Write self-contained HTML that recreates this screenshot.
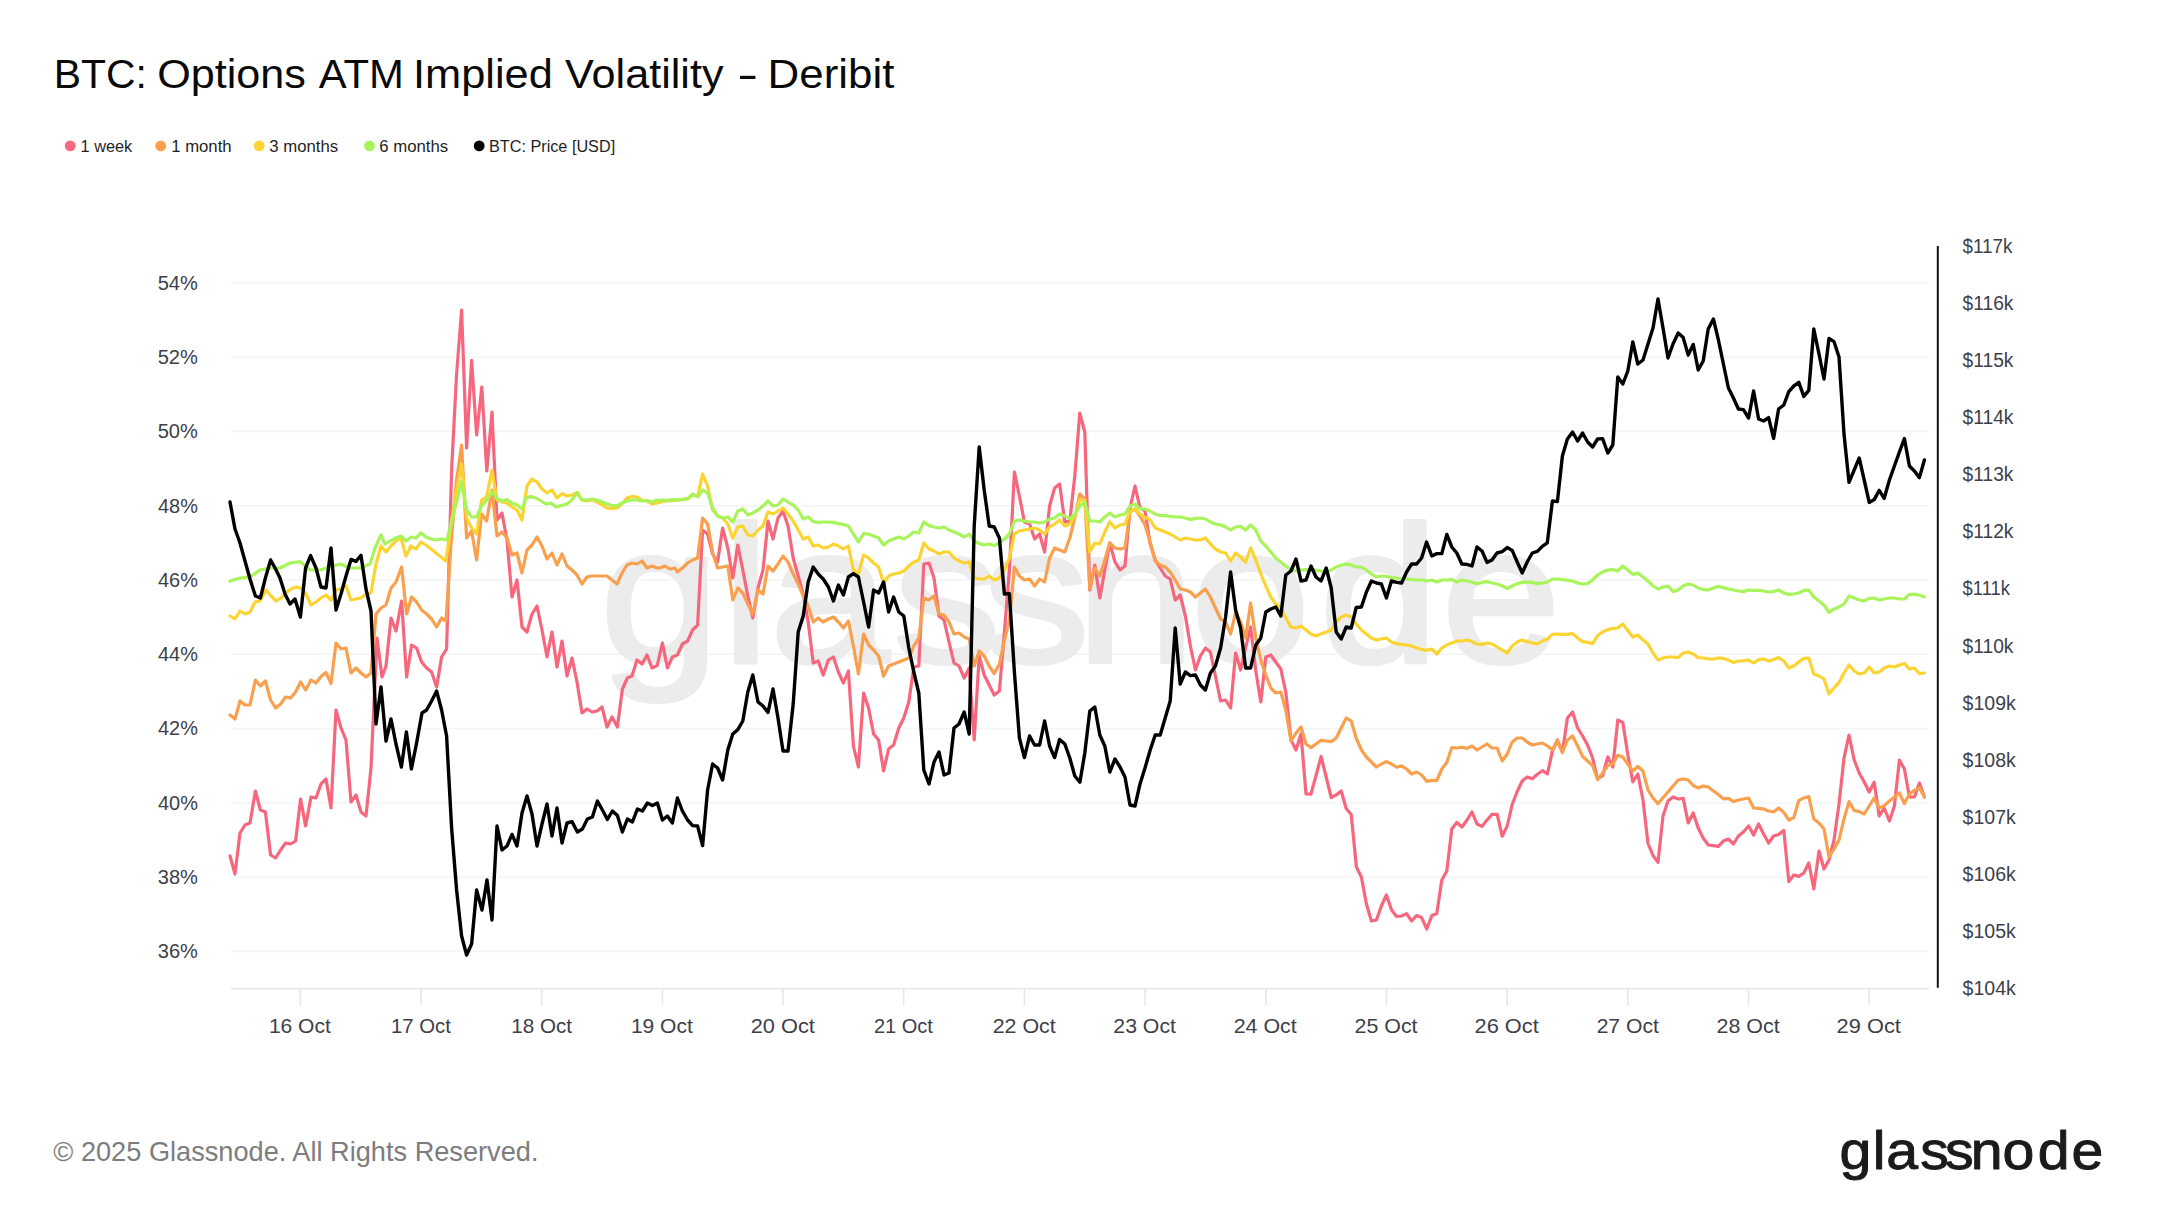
<!DOCTYPE html>
<html><head><meta charset="utf-8"><title>BTC: Options ATM Implied Volatility - Deribit</title>
<style>
html,body{margin:0;padding:0;background:#fff;}
body{width:2160px;height:1215px;overflow:hidden;position:relative;font-family:"Liberation Sans",sans-serif;}
svg{position:absolute;left:0;top:0;}
text{font-family:"Liberation Sans",sans-serif;}
.ax{font-size:19.5px;fill:#3d4049;}
.lg{font-size:17.2px;fill:#1f1f1f;}
.ln{fill:none;stroke-linejoin:round;stroke-linecap:round;}
</style></head><body>
<svg width="2160" height="1215" viewBox="0 0 2160 1215">
<rect width="2160" height="1215" fill="#fff"/>
<text id="title" y="87.5" font-size="41.5" fill="#0a0a0a"><tspan x="53.75" textLength="93.08" lengthAdjust="spacingAndGlyphs">BTC:</tspan> <tspan x="157.16" textLength="148.60" lengthAdjust="spacingAndGlyphs">Options</tspan> <tspan x="318.67" textLength="85.16" lengthAdjust="spacingAndGlyphs">ATM</tspan> <tspan x="413.00" textLength="139.80" lengthAdjust="spacingAndGlyphs">Implied</tspan> <tspan x="565.11" textLength="158.47" lengthAdjust="spacingAndGlyphs">Volatility</tspan> <tspan x="737.20" textLength="21.00" lengthAdjust="spacingAndGlyphs">-</tspan> <tspan x="767.60" textLength="126.72" lengthAdjust="spacingAndGlyphs">Deribit</tspan></text>
<g>
<circle cx="70.2" cy="145.9" r="5.4" fill="#f6697f"/><text class="lg" x="80.56" y="151.6" textLength="51.72" lengthAdjust="spacingAndGlyphs">1 week</text>
<circle cx="160.7" cy="145.9" r="5.4" fill="#f9a04e"/><text class="lg" x="171.23" y="151.6" textLength="60.36" lengthAdjust="spacingAndGlyphs">1 month</text>
<circle cx="259.2" cy="145.9" r="5.4" fill="#fbd535"/><text class="lg" x="269.36" y="151.6" textLength="68.84" lengthAdjust="spacingAndGlyphs">3 months</text>
<circle cx="369.5" cy="145.9" r="5.4" fill="#a9f35c"/><text class="lg" x="379.15" y="151.6" textLength="69.06" lengthAdjust="spacingAndGlyphs">6 months</text>
<circle cx="479.2" cy="145.9" r="5.4" fill="#000"/><text class="lg" x="488.97" y="151.6" textLength="126.19" lengthAdjust="spacingAndGlyphs">BTC: Price [USD]</text>
</g>
<line x1="230.5" x2="1929" y1="283.0" y2="283.0" stroke="#f4f4f4" stroke-width="1.5"/><line x1="230.5" x2="1929" y1="357.3" y2="357.3" stroke="#f4f4f4" stroke-width="1.5"/><line x1="230.5" x2="1929" y1="431.5" y2="431.5" stroke="#f4f4f4" stroke-width="1.5"/><line x1="230.5" x2="1929" y1="505.8" y2="505.8" stroke="#f4f4f4" stroke-width="1.5"/><line x1="230.5" x2="1929" y1="580.1" y2="580.1" stroke="#f4f4f4" stroke-width="1.5"/><line x1="230.5" x2="1929" y1="654.3" y2="654.3" stroke="#f4f4f4" stroke-width="1.5"/><line x1="230.5" x2="1929" y1="728.6" y2="728.6" stroke="#f4f4f4" stroke-width="1.5"/><line x1="230.5" x2="1929" y1="802.9" y2="802.9" stroke="#f4f4f4" stroke-width="1.5"/><line x1="230.5" x2="1929" y1="877.2" y2="877.2" stroke="#f4f4f4" stroke-width="1.5"/><line x1="230.5" x2="1929" y1="951.4" y2="951.4" stroke="#f4f4f4" stroke-width="1.5"/>
<text id="wm" transform="scale(1.1,1)" x="545.5 656.3 699.7 812.1 893.2 978.2 1082.6 1199.5 1310.5" y="662" font-size="195" fill="#ececec" stroke="#ececec" stroke-width="4" stroke-linejoin="round">glassnode</text>
<polyline class="ln" stroke="#f6677d" stroke-width="3.2" points="230.0,856.0 235.0,874.0 240.0,833.0 245.0,825.0 250.0,823.0 255.4,791.0 260.4,810.0 265.4,812.0 270.6,855.0 275.6,858.0 280.6,850.0 285.6,843.0 290.6,844.0 295.6,841.0 300.6,799.0 305.6,826.0 311.0,797.0 316.0,798.0 321.0,784.0 326.0,779.0 331.0,808.0 336.0,710.0 341.0,728.0 346.0,740.0 351.0,802.0 356.0,795.0 361.0,812.0 366.0,816.0 371.0,768.0 377.0,638.0 382.0,677.0 386.0,666.0 391.0,618.0 396.0,631.0 401.6,601.0 406.6,677.0 411.6,645.0 416.6,648.0 421.6,662.0 426.6,668.0 431.6,672.0 436.6,687.0 441.6,657.0 446.6,649.0 451.6,470.0 456.6,374.0 461.6,310.0 466.6,448.0 471.6,360.4 476.6,435.0 481.8,387.0 486.8,471.0 492.0,412.0 497.0,520.0 502.0,513.0 507.0,540.0 512.0,597.0 517.0,580.0 522.0,627.0 527.0,632.0 532.0,614.0 537.0,606.0 542.0,630.0 547.0,657.0 552.0,632.0 557.0,667.0 562.0,641.0 567.0,676.0 572.0,658.0 577.0,682.0 582.0,713.0 587.0,709.0 592.0,712.0 597.0,711.0 602.0,707.0 607.0,727.0 612.0,717.0 617.4,727.0 622.4,689.0 627.4,678.0 632.0,676.0 637.0,660.0 642.0,664.0 647.0,655.0 652.0,668.0 657.2,665.5 662.4,643.0 667.4,668.0 672.4,657.0 677.4,655.0 682.4,644.0 687.6,641.0 692.6,630.0 697.6,625.0 702.6,530.0 707.6,534.0 712.6,554.0 717.6,562.0 722.6,528.0 727.8,548.0 732.8,578.0 737.8,545.0 742.8,570.0 747.8,596.0 752.8,618.0 758.0,588.0 763.0,570.0 768.0,521.0 773.0,539.0 778.0,518.0 783.0,511.0 788.0,526.0 793.2,558.0 798.2,576.0 803.2,594.0 808.2,622.0 813.2,663.0 818.2,661.0 823.2,675.0 828.4,660.0 833.4,657.0 838.4,672.0 843.4,683.0 848.4,671.0 853.4,746.0 858.4,767.0 863.6,693.0 868.6,708.0 873.6,734.0 878.6,740.0 883.6,771.0 888.6,749.0 893.6,745.0 898.8,728.0 903.8,718.0 908.8,702.0 913.8,667.0 918.8,666.0 923.8,564.0 929.0,563.0 934.0,578.0 939.0,616.0 944.0,620.0 949.0,642.0 954.0,663.0 959.0,666.0 964.2,678.0 969.2,668.0 974.2,740.0 979.2,656.0 984.2,675.0 989.2,685.0 994.2,695.0 999.4,691.0 1004.4,632.0 1009.4,570.0 1014.4,472.0 1019.4,496.0 1024.4,522.0 1029.6,524.0 1034.6,539.0 1039.6,534.0 1044.6,552.0 1049.6,506.0 1054.6,488.0 1059.6,484.0 1064.8,522.0 1069.8,521.0 1074.8,476.0 1079.8,413.0 1084.8,432.0 1089.8,590.0 1094.8,565.0 1099.8,598.0 1104.8,570.0 1109.8,543.0 1115.0,562.0 1120.0,570.0 1125.0,566.0 1130.0,508.0 1135.0,486.0 1140.0,508.0 1145.0,511.0 1150.2,544.0 1155.2,560.0 1160.2,568.0 1165.2,576.0 1170.2,579.0 1175.2,600.0 1180.2,595.0 1185.4,616.0 1190.4,646.0 1195.4,670.0 1200.4,656.0 1205.4,648.0 1210.4,652.0 1215.4,676.0 1220.6,701.0 1225.6,700.0 1230.6,708.0 1235.6,653.0 1240.6,670.0 1245.6,648.0 1250.6,627.0 1255.8,671.0 1260.8,702.0 1265.8,657.0 1270.8,655.0 1275.8,662.0 1280.8,669.0 1285.8,692.0 1291.0,740.0 1296.0,750.0 1301.0,734.0 1306.0,794.0 1311.0,794.2 1316.0,775.5 1321.1,756.5 1326.2,777.0 1331.2,797.5 1336.2,795.0 1341.2,791.0 1346.2,808.5 1351.2,814.5 1356.4,867.0 1361.4,877.0 1366.4,904.0 1371.4,921.0 1376.4,920.0 1381.4,906.0 1386.4,895.0 1391.6,910.0 1396.6,916.4 1401.6,916.0 1406.6,913.6 1411.6,921.0 1416.6,915.6 1421.6,917.6 1426.8,929.0 1431.8,915.6 1436.8,913.6 1441.8,880.0 1446.8,871.0 1451.8,829.0 1456.8,822.4 1462.0,827.0 1467.0,820.0 1472.0,812.0 1477.0,824.0 1482.0,826.4 1487.0,820.0 1492.0,814.4 1497.2,814.4 1502.2,836.2 1507.2,826.0 1512.2,804.5 1517.2,791.5 1522.2,781.0 1527.2,777.0 1532.3,778.7 1537.4,774.2 1542.4,770.7 1547.4,774.0 1552.4,751.0 1557.4,740.0 1562.4,752.4 1567.4,718.0 1572.6,712.0 1577.6,728.0 1582.6,736.0 1587.6,745.0 1592.6,758.0 1597.6,779.0 1602.7,775.5 1607.8,757.0 1612.8,767.0 1617.8,720.0 1622.8,722.4 1627.8,754.5 1632.8,782.0 1637.9,774.0 1643.0,800.0 1648.0,843.5 1653.0,855.5 1658.0,862.4 1663.0,816.0 1668.0,801.0 1673.1,797.0 1678.2,799.0 1683.2,798.4 1688.2,823.0 1693.2,813.0 1698.2,828.0 1703.2,838.0 1708.3,845.0 1713.4,845.6 1718.4,846.4 1723.4,841.0 1728.4,839.0 1733.4,844.0 1738.4,836.0 1743.4,832.0 1748.6,826.0 1753.6,835.0 1758.6,824.0 1763.6,834.0 1768.6,843.0 1773.6,836.0 1778.6,834.4 1783.8,830.4 1788.8,881.6 1793.8,875.0 1798.8,876.4 1803.8,873.0 1808.8,863.0 1813.8,889.0 1819.0,851.0 1824.0,869.0 1829.0,860.0 1834.0,840.0 1839.0,804.0 1844.0,758.0 1849.0,735.0 1854.2,760.0 1859.2,773.0 1864.2,782.0 1869.2,792.0 1874.2,782.2 1879.2,816.0 1884.2,808.0 1889.4,821.0 1894.4,806.0 1899.4,760.0 1904.4,769.0 1909.4,797.0 1914.4,797.0 1919.4,783.0 1924.4,797.0"/>
<polyline class="ln" stroke="#f9a04e" stroke-width="3.2" points="230.0,715.0 235.0,719.0 240.0,701.0 245.0,705.0 250.0,705.0 255.4,680.0 260.4,686.0 265.4,681.0 270.6,700.0 275.6,708.0 280.6,704.0 285.6,697.0 290.6,698.0 295.6,692.0 300.6,682.0 305.6,690.0 311.0,680.0 316.0,683.0 321.0,676.5 326.0,672.5 331.0,683.5 336.0,643.0 341.0,649.0 346.0,648.0 351.0,673.0 356.0,668.0 361.0,673.0 366.0,677.0 371.0,673.0 376.0,614.0 381.0,608.0 386.0,605.0 391.0,588.0 396.0,582.0 401.6,567.0 406.6,614.0 411.6,597.0 416.6,602.0 421.6,610.0 426.6,614.0 431.6,619.0 436.6,627.0 441.6,618.0 446.0,621.0 451.0,544.0 456.6,480.0 461.6,445.0 466.6,538.0 471.6,531.0 476.6,560.0 481.6,514.0 486.6,521.0 492.0,490.0 497.0,536.0 502.0,532.0 507.0,538.0 512.0,555.0 517.0,553.0 522.0,573.0 527.0,550.0 532.0,545.0 537.0,537.0 542.0,546.0 547.0,559.0 552.0,553.0 557.0,565.0 562.0,554.0 567.0,566.0 572.0,570.0 577.0,575.0 582.0,584.0 587.0,577.0 592.0,576.0 597.0,576.0 602.0,576.0 607.0,576.0 612.0,580.0 617.0,584.0 622.0,573.0 627.0,565.0 632.0,563.0 637.0,564.0 642.0,561.0 647.0,568.0 652.0,566.0 657.0,568.0 660.0,568.0 665.0,566.0 670.0,569.0 675.0,568.0 677.4,572.0 682.4,568.0 687.6,563.0 692.6,560.0 697.6,558.0 702.6,518.0 707.6,524.0 712.6,552.0 717.6,568.0 722.6,567.0 727.8,566.0 732.8,600.0 737.8,588.0 742.8,593.0 747.8,604.0 752.8,614.0 758.0,590.0 763.0,594.0 768.0,566.0 773.0,571.0 778.0,564.0 783.0,556.0 788.0,562.0 793.2,574.0 798.2,584.0 803.2,596.0 808.2,606.0 813.2,622.0 818.2,618.0 823.2,622.0 828.4,619.0 833.4,617.0 838.4,622.0 843.4,628.0 848.4,621.0 853.4,646.0 858.4,674.0 863.6,634.0 868.6,645.0 873.6,650.0 878.6,656.0 883.6,676.0 888.6,666.0 893.6,664.0 898.8,662.0 903.8,660.0 908.8,658.0 913.8,646.0 918.8,638.0 923.8,598.0 929.0,600.0 934.0,596.0 939.0,614.0 944.0,615.0 949.0,622.0 954.0,634.0 959.0,633.0 964.2,637.0 969.2,639.0 974.2,666.0 979.2,651.0 984.2,656.0 989.2,666.0 994.2,673.6 999.4,664.0 1004.4,640.0 1009.4,620.0 1014.4,567.0 1019.4,576.0 1024.4,580.0 1029.6,579.0 1034.6,586.0 1039.6,579.0 1044.6,582.0 1049.6,558.0 1054.6,548.0 1059.6,550.0 1064.8,552.0 1069.8,538.0 1074.8,518.0 1079.8,494.0 1084.8,499.0 1089.8,589.0 1094.8,568.0 1099.8,576.0 1104.8,560.0 1109.8,543.0 1115.0,548.0 1120.0,549.0 1125.0,548.0 1130.0,512.0 1135.0,509.0 1140.0,516.0 1145.0,525.0 1150.2,542.0 1155.2,561.0 1160.2,565.0 1165.2,567.0 1170.2,572.0 1175.2,580.0 1180.2,589.0 1185.4,590.0 1190.4,592.0 1195.4,597.0 1200.4,593.0 1205.4,589.0 1210.4,597.0 1215.4,608.0 1220.6,619.0 1225.6,622.0 1230.6,634.0 1235.6,612.0 1240.6,622.0 1245.6,638.0 1250.6,603.0 1255.8,638.0 1260.8,660.0 1265.8,675.0 1270.8,688.0 1275.8,693.0 1280.8,692.0 1285.8,710.0 1291.0,741.0 1296.0,733.0 1301.0,727.0 1306.0,744.0 1311.0,747.6 1316.0,744.0 1321.0,740.4 1326.2,741.0 1331.2,741.6 1336.2,738.0 1341.2,728.0 1346.2,718.0 1351.2,721.0 1356.2,738.0 1361.4,750.0 1366.4,757.0 1371.4,762.0 1376.4,767.0 1381.4,764.0 1386.4,761.6 1391.5,764.0 1396.6,767.2 1401.6,765.8 1406.6,769.0 1411.6,774.0 1416.6,772.0 1421.6,775.0 1426.7,781.3 1431.8,780.4 1436.8,780.5 1441.8,769.0 1446.8,762.5 1451.8,747.5 1456.8,748.0 1461.9,747.3 1467.0,748.4 1472.0,746.0 1477.0,750.0 1482.0,747.0 1487.0,744.0 1492.0,748.0 1497.1,748.0 1502.2,761.0 1507.2,754.0 1512.2,742.0 1517.2,738.0 1522.2,738.0 1527.2,742.0 1532.3,745.0 1537.4,744.0 1542.4,743.0 1547.4,746.0 1552.4,749.8 1557.4,741.0 1562.4,752.4 1567.4,740.0 1572.6,736.0 1577.6,746.0 1582.6,756.5 1587.6,761.0 1592.6,765.5 1597.6,779.5 1602.7,773.0 1607.8,765.5 1612.8,764.0 1617.8,755.3 1622.8,757.0 1627.8,764.0 1632.8,771.0 1637.9,766.5 1643.0,771.0 1648.0,790.0 1653.0,798.0 1658.0,803.8 1663.0,797.8 1668.0,792.0 1673.1,786.0 1678.2,780.0 1683.2,779.0 1688.2,780.0 1693.2,785.5 1698.2,788.0 1703.2,786.1 1708.3,786.9 1713.4,791.0 1718.4,794.5 1723.4,798.9 1728.4,798.4 1733.4,801.6 1738.4,800.0 1743.4,799.0 1748.6,798.0 1753.6,808.0 1758.6,808.4 1763.6,809.0 1768.6,811.0 1773.6,812.0 1778.6,808.0 1783.8,812.4 1788.8,820.0 1793.8,817.6 1798.8,800.4 1803.8,798.0 1808.8,796.6 1813.8,819.0 1819.0,823.0 1824.0,829.0 1829.0,857.0 1834.0,849.0 1839.0,840.0 1844.0,819.0 1849.0,801.6 1854.2,810.4 1859.2,811.6 1864.2,814.0 1869.2,806.0 1874.2,798.0 1879.2,808.0 1884.2,805.6 1889.4,801.0 1894.4,797.0 1899.4,793.0 1904.4,803.6 1909.4,794.0 1914.4,790.4 1919.4,788.0 1924.4,797.0"/>
<polyline class="ln" stroke="#fbd431" stroke-width="3.2" points="230.0,616.0 235.0,619.0 240.0,611.0 245.0,614.0 250.0,612.0 255.0,602.0 260.0,601.0 266.0,590.0 271.0,596.0 276.0,601.0 281.0,598.0 286.0,593.0 291.0,589.0 296.0,587.0 301.0,588.0 306.0,594.0 311.0,605.0 316.0,602.0 321.0,598.0 326.0,595.0 331.0,600.0 336.0,590.0 341.0,589.0 346.0,586.0 351.0,600.0 356.0,599.0 361.0,598.0 366.0,594.0 371.0,593.0 376.0,564.0 381.0,546.0 386.0,552.0 391.0,546.0 396.0,541.0 401.0,538.0 406.0,556.0 411.0,546.0 416.0,549.0 421.0,542.0 426.0,545.0 431.0,549.0 436.0,553.0 441.0,557.0 446.0,561.0 451.0,524.0 456.6,490.0 461.6,464.0 466.6,518.0 471.6,528.0 476.6,534.0 481.6,500.0 486.6,497.0 492.0,470.0 497.0,500.0 502.0,502.0 507.0,503.0 512.0,507.0 517.0,510.0 522.0,520.0 527.0,486.0 532.0,479.0 537.0,482.0 542.0,489.0 547.0,493.0 552.0,490.0 557.0,498.0 562.0,493.6 567.0,496.0 572.0,495.0 577.6,492.4 582.0,500.0 587.0,501.0 592.0,499.6 597.0,502.0 602.0,505.0 607.0,508.0 612.0,508.4 617.0,508.0 622.0,504.0 627.0,498.0 632.0,496.4 637.0,497.0 642.0,500.0 647.0,501.0 652.0,504.0 657.0,503.0 665.0,501.0 675.0,500.4 687.6,499.0 692.6,495.0 697.6,496.0 702.6,474.0 707.6,486.0 712.6,510.0 717.6,516.0 722.6,518.0 727.8,524.0 732.8,538.0 737.8,527.0 742.8,526.0 747.8,535.0 752.8,536.0 758.0,530.0 763.0,526.0 768.0,512.0 773.0,514.0 778.0,511.0 783.0,508.0 788.0,514.0 793.2,521.0 798.2,530.0 803.2,539.0 808.2,537.0 813.2,546.0 818.2,545.0 823.2,548.0 828.4,547.0 833.4,544.0 838.4,546.0 843.4,549.0 848.4,546.0 853.4,570.0 858.4,574.0 863.6,555.0 868.6,558.0 873.6,563.0 878.6,567.0 883.6,583.0 888.6,576.0 893.6,574.0 898.8,573.0 903.8,571.0 908.8,566.0 913.8,562.0 918.8,560.0 923.8,543.0 929.0,549.0 934.0,551.0 939.0,554.0 944.0,552.0 949.0,552.0 954.0,558.0 959.0,561.0 964.2,563.0 969.2,562.0 974.2,578.0 979.2,579.0 984.2,579.0 989.2,576.0 994.2,580.0 999.4,578.0 1004.4,570.0 1009.4,558.0 1014.4,534.0 1019.4,531.0 1024.4,530.0 1029.6,529.0 1034.6,528.0 1039.6,530.0 1044.6,534.0 1049.6,527.0 1054.6,524.0 1059.6,520.0 1064.8,526.0 1069.8,524.0 1074.8,516.0 1079.8,500.0 1084.8,500.0 1089.8,552.0 1094.8,543.0 1099.8,544.0 1104.8,532.0 1109.8,522.0 1115.0,528.0 1120.0,525.0 1125.0,524.0 1130.0,511.0 1135.0,509.0 1140.0,514.0 1145.0,517.0 1150.2,520.0 1155.2,528.0 1160.2,530.0 1165.2,532.0 1170.2,534.0 1175.2,537.0 1180.2,540.0 1185.4,538.0 1190.4,539.0 1195.4,540.0 1200.4,540.0 1205.4,538.0 1210.4,544.0 1215.4,549.0 1220.6,552.0 1225.6,553.0 1230.6,561.0 1235.6,553.0 1240.6,557.0 1245.6,562.0 1250.6,548.0 1255.8,560.0 1260.8,574.0 1265.8,586.0 1270.8,597.0 1275.8,604.0 1280.8,608.0 1285.8,618.0 1291.0,627.0 1296.0,628.0 1301.0,626.0 1306.0,630.0 1311.0,634.0 1316.0,636.0 1321.0,634.0 1326.2,632.0 1331.2,630.0 1336.2,622.0 1341.2,617.0 1346.2,615.0 1351.2,617.0 1356.2,624.0 1361.4,630.0 1366.4,634.0 1371.4,638.0 1376.4,640.0 1381.4,639.0 1386.4,638.0 1391.4,642.0 1396.6,643.6 1401.6,644.4 1406.6,645.0 1411.6,646.0 1416.6,648.0 1421.6,649.6 1426.6,650.4 1431.8,649.0 1436.8,654.0 1441.8,648.0 1446.8,645.0 1451.8,643.0 1456.8,641.0 1461.8,641.0 1467.0,640.0 1472.0,641.6 1477.0,644.0 1482.0,644.4 1487.0,643.0 1492.0,644.0 1497.0,647.0 1502.2,650.2 1507.2,653.0 1512.2,646.0 1517.2,642.0 1522.2,640.0 1527.2,641.6 1532.2,643.0 1537.4,644.0 1542.4,641.0 1547.4,639.0 1552.4,634.4 1557.4,634.0 1562.4,634.4 1567.4,634.4 1572.6,633.6 1577.6,638.0 1582.6,641.6 1587.6,642.4 1592.6,643.6 1597.6,635.6 1602.6,632.0 1607.8,629.6 1612.8,628.4 1617.8,628.0 1622.8,624.0 1627.8,630.4 1632.8,637.0 1637.8,635.0 1643.0,640.0 1648.0,644.0 1653.0,653.0 1658.0,660.0 1663.0,658.0 1668.0,657.0 1673.0,657.0 1678.2,657.6 1683.2,653.0 1688.2,652.0 1693.2,654.0 1698.2,657.6 1703.2,658.0 1708.2,659.0 1713.4,659.0 1718.4,658.0 1723.4,658.4 1728.4,660.0 1733.4,662.4 1738.4,661.0 1743.4,661.0 1748.6,660.0 1753.6,663.0 1758.6,659.6 1763.6,659.0 1768.6,661.0 1773.6,659.6 1778.6,657.6 1783.8,661.0 1788.8,668.0 1793.8,666.0 1798.8,662.0 1803.8,658.4 1808.8,658.0 1813.8,674.0 1819.0,676.0 1824.0,679.0 1829.0,694.0 1834.0,688.0 1839.0,682.4 1844.0,673.0 1849.0,665.0 1854.2,671.0 1859.2,674.0 1864.2,673.0 1869.2,667.0 1874.2,673.0 1879.2,672.0 1884.2,668.0 1889.4,666.0 1894.4,667.0 1899.4,665.0 1904.4,663.6 1909.4,669.0 1914.4,668.0 1919.4,673.6 1924.4,673.0"/>
<polyline class="ln" stroke="#a8f45a" stroke-width="3.2" points="230.0,581.0 240.0,578.0 250.0,577.0 260.0,570.0 270.0,568.0 280.0,568.0 290.0,563.0 300.0,561.6 310.0,570.0 320.0,570.0 330.0,567.0 340.0,564.0 350.0,568.0 360.0,568.0 370.0,564.0 375.0,548.0 381.0,535.0 385.0,544.0 390.0,541.0 396.0,538.0 401.0,536.0 406.0,541.0 411.0,537.0 416.0,538.0 421.0,533.0 426.0,537.0 431.0,539.0 436.0,540.0 441.0,539.0 447.0,540.0 452.0,520.0 457.0,500.0 461.6,482.0 466.6,510.0 471.6,517.0 476.6,517.0 481.6,506.0 486.6,500.0 492.0,492.0 497.0,498.0 502.0,501.0 507.0,499.6 512.0,503.0 517.0,505.0 522.0,509.0 526.0,498.0 531.0,496.6 536.0,498.0 541.0,501.0 546.0,504.0 551.0,503.0 556.0,507.0 561.0,505.6 566.0,504.4 571.0,501.0 577.0,493.0 582.0,500.0 587.0,500.0 592.0,499.0 597.0,500.0 602.0,502.0 607.0,504.0 612.0,505.6 617.0,505.6 622.0,503.0 627.0,501.0 632.0,500.0 637.0,500.0 642.0,501.0 647.0,500.4 652.0,502.0 657.0,500.0 662.4,500.0 667.4,500.4 672.4,499.6 677.4,500.0 682.4,499.4 687.6,498.6 692.6,494.0 697.6,497.0 702.6,490.0 707.6,493.0 712.6,508.0 717.6,516.0 722.6,518.0 727.8,517.0 732.8,522.0 737.8,511.0 742.8,509.0 747.8,515.0 752.8,513.0 758.0,510.0 763.0,506.0 768.0,501.0 773.0,506.0 778.0,505.0 783.0,499.0 788.0,502.0 793.2,505.0 798.2,510.0 803.2,519.0 808.2,517.0 813.2,521.6 818.2,522.4 823.2,522.0 828.4,522.0 833.4,522.4 838.4,523.6 843.4,524.4 848.4,526.0 853.4,534.0 858.4,542.0 863.6,533.6 868.6,534.0 873.6,536.0 878.6,538.0 883.6,545.0 888.6,541.0 893.6,539.0 898.8,537.0 903.8,539.0 908.8,536.0 913.8,532.0 918.8,533.0 923.8,522.0 929.0,525.6 934.0,527.0 939.0,528.0 944.0,527.0 949.0,530.0 954.0,532.0 959.0,534.0 964.2,537.0 969.2,534.0 974.2,541.0 979.2,543.6 984.2,545.0 989.2,544.0 994.2,545.6 999.4,543.0 1004.4,539.0 1009.4,534.0 1014.4,521.0 1019.4,520.0 1024.4,521.0 1029.6,522.0 1034.6,522.0 1039.6,523.0 1044.6,522.0 1049.6,519.0 1054.6,518.0 1059.6,514.0 1064.8,516.0 1069.8,519.0 1074.8,514.0 1079.8,506.0 1084.8,502.0 1089.8,521.0 1094.8,521.0 1099.8,522.0 1104.8,517.0 1109.8,513.0 1115.0,517.0 1120.0,515.0 1125.0,514.0 1130.0,506.0 1135.0,504.0 1140.0,509.0 1145.0,509.0 1150.2,511.0 1155.2,514.0 1160.2,515.6 1165.2,515.6 1170.2,516.4 1175.2,517.0 1180.2,517.0 1185.4,518.0 1190.4,519.6 1195.4,518.4 1200.4,518.0 1205.4,519.0 1210.4,522.0 1215.4,524.0 1220.6,525.0 1225.6,527.0 1230.6,530.0 1235.6,527.0 1240.6,526.4 1245.6,530.0 1250.6,525.0 1255.8,530.0 1260.8,541.0 1265.8,546.0 1270.8,552.0 1275.8,558.0 1280.8,562.0 1285.8,566.0 1291.0,570.0 1296.0,571.0 1301.0,570.0 1306.0,569.6 1311.0,570.0 1316.0,570.0 1321.0,571.0 1326.2,572.0 1331.2,570.0 1336.2,567.0 1341.2,565.0 1346.2,564.0 1351.2,565.0 1356.2,567.0 1361.4,567.0 1366.4,570.0 1371.4,574.0 1376.4,577.0 1381.4,576.0 1386.4,576.4 1391.4,577.6 1396.6,578.0 1401.6,579.0 1406.6,579.0 1411.6,579.6 1416.6,580.0 1421.6,580.0 1426.6,581.0 1431.8,580.0 1436.8,582.0 1441.8,580.0 1446.8,580.0 1451.8,579.6 1456.8,582.0 1461.8,580.0 1467.0,581.0 1472.0,582.0 1477.0,584.0 1482.0,582.4 1487.0,581.6 1492.0,583.0 1497.0,584.0 1502.2,585.8 1507.2,588.5 1512.2,586.0 1517.2,583.6 1522.2,582.4 1527.2,582.0 1532.2,582.4 1537.4,583.6 1542.4,583.0 1547.4,582.0 1552.4,579.0 1557.4,579.0 1562.4,579.6 1567.4,580.4 1572.6,581.0 1577.6,583.0 1582.6,584.0 1587.6,583.6 1592.6,580.0 1597.6,575.0 1602.6,572.0 1607.8,570.0 1612.8,569.6 1617.8,571.0 1622.8,566.0 1627.8,570.0 1632.8,574.4 1637.8,573.0 1643.0,577.0 1648.0,581.0 1653.0,586.0 1658.0,589.0 1663.0,587.0 1668.0,586.0 1673.0,591.6 1678.2,590.0 1683.2,586.0 1688.2,584.0 1693.2,585.0 1698.2,588.0 1703.2,589.6 1708.2,590.0 1713.4,588.0 1718.4,586.4 1723.4,587.6 1728.4,589.0 1733.4,590.0 1738.4,591.0 1743.4,591.6 1748.6,590.0 1753.6,590.4 1758.6,590.4 1763.6,591.0 1768.6,592.0 1773.6,591.6 1778.6,590.0 1783.8,593.0 1788.8,594.4 1793.8,594.0 1798.8,593.0 1803.8,590.4 1808.8,590.0 1813.8,597.0 1819.0,601.0 1824.0,605.0 1829.0,612.4 1834.0,609.0 1839.0,607.0 1844.0,604.0 1849.0,596.0 1854.2,598.0 1859.2,600.0 1864.2,601.0 1869.2,598.4 1874.2,598.0 1879.2,600.0 1884.2,599.0 1889.4,598.0 1894.4,598.0 1899.4,599.0 1904.4,599.0 1909.4,594.4 1914.4,594.4 1919.4,595.0 1924.4,597.0"/>
<polyline class="ln" stroke="#000000" stroke-width="3.4" points="230.0,502.0 235.0,529.0 240.0,543.0 245.0,561.0 250.0,579.0 255.4,596.0 260.4,598.0 265.4,578.0 270.6,560.0 275.6,569.0 280.0,578.0 285.0,594.0 290.0,604.0 295.0,599.0 300.4,617.0 305.6,568.0 310.6,555.6 316.0,568.0 321.0,587.0 326.0,588.0 331.0,548.0 336.0,610.0 341.0,594.0 346.0,576.0 351.0,559.4 356.0,561.4 361.0,555.4 366.0,589.0 371.0,611.0 376.0,724.0 381.0,687.0 386.0,741.0 391.0,719.0 396.0,744.0 401.4,767.0 406.4,732.0 411.4,769.0 416.4,744.0 422.0,713.0 426.6,710.0 431.6,701.0 436.6,691.0 441.6,710.0 446.6,736.0 451.6,828.0 456.6,890.0 461.6,936.0 466.6,955.0 471.6,944.0 476.6,890.0 482.0,910.0 487.0,880.0 492.0,920.0 497.0,826.0 502.0,850.0 507.0,846.0 512.0,834.4 517.0,846.0 522.0,813.0 527.0,796.0 532.0,814.0 537.0,846.0 542.0,824.0 547.0,804.0 552.0,836.0 557.0,808.0 562.0,843.0 567.0,823.0 572.0,821.6 577.4,832.0 582.4,829.0 587.4,819.0 592.4,817.0 597.4,801.0 602.4,810.0 607.4,819.4 612.4,811.0 617.4,815.6 622.4,832.0 627.4,819.0 632.4,822.0 637.4,809.0 642.4,811.0 647.4,803.0 652.4,805.6 657.4,803.0 662.4,820.0 667.4,816.0 672.4,823.0 677.4,798.0 682.4,811.0 687.6,820.0 692.6,825.6 697.6,826.0 702.6,845.6 707.6,790.0 712.6,764.0 717.6,768.0 722.6,780.0 727.8,750.0 732.8,734.0 737.8,729.6 742.8,721.0 747.8,692.0 752.8,675.0 758.0,702.0 763.0,706.0 768.0,712.4 773.0,689.0 778.0,718.0 783.0,751.0 788.0,751.0 793.2,704.0 798.2,632.0 803.2,616.0 808.2,582.0 813.2,567.0 818.2,574.0 823.2,579.0 828.4,587.0 833.4,601.0 838.4,585.0 843.4,595.0 848.4,577.0 853.4,573.6 858.4,577.0 863.6,602.0 868.6,627.0 873.6,590.0 878.6,593.0 883.6,582.0 888.6,612.0 893.6,597.0 898.8,612.0 903.8,616.0 908.8,648.0 913.8,672.0 918.8,693.0 923.8,770.0 929.0,784.0 934.0,762.0 939.0,752.0 944.0,775.0 949.0,773.0 954.0,728.0 959.0,724.0 964.2,712.0 969.2,734.0 974.2,526.0 979.2,447.0 984.2,490.0 989.2,526.0 994.2,527.0 999.4,538.0 1004.4,594.0 1009.4,593.6 1014.4,672.0 1019.4,738.0 1024.4,757.6 1029.6,736.0 1034.6,745.0 1039.6,745.0 1044.6,721.0 1049.6,746.0 1054.6,757.6 1059.6,739.4 1064.8,744.0 1069.8,758.0 1074.8,776.0 1079.9,782.2 1084.8,753.0 1089.8,711.0 1094.8,707.0 1099.8,735.0 1104.8,746.0 1109.8,772.0 1115.0,759.0 1120.0,767.0 1125.0,777.0 1130.0,805.0 1135.0,806.0 1140.0,784.0 1145.0,768.0 1150.2,750.0 1155.2,735.0 1160.2,735.0 1165.2,718.0 1170.2,701.0 1175.2,628.0 1180.2,684.0 1185.4,672.0 1190.4,675.6 1195.4,675.0 1200.4,685.0 1205.4,690.0 1210.4,673.0 1215.4,666.0 1220.6,648.0 1225.6,617.0 1230.6,572.0 1235.6,610.0 1240.6,628.0 1245.6,668.0 1250.6,668.0 1255.8,645.0 1260.8,638.0 1265.8,612.0 1270.8,609.0 1275.8,607.0 1280.8,616.0 1285.8,575.0 1291.0,571.0 1296.0,559.0 1301.0,581.0 1306.0,580.0 1311.0,566.0 1316.0,577.0 1321.0,581.0 1326.2,568.0 1331.2,588.0 1336.2,632.0 1341.2,639.0 1346.2,627.0 1351.2,628.0 1356.2,607.5 1361.4,607.0 1366.4,592.0 1371.4,581.0 1376.4,583.0 1381.4,584.0 1386.4,598.0 1391.4,581.0 1396.6,582.4 1401.6,583.0 1406.6,572.0 1411.6,564.0 1416.6,564.0 1421.6,558.0 1426.6,542.0 1431.8,556.0 1436.8,553.6 1441.8,553.6 1446.8,534.4 1451.8,547.0 1456.8,553.0 1461.8,564.0 1467.0,564.4 1472.0,566.0 1477.0,547.0 1482.0,551.0 1487.0,562.4 1492.0,560.0 1497.0,553.0 1502.2,551.6 1507.2,547.6 1512.2,550.4 1517.2,562.0 1522.2,573.0 1527.2,562.0 1532.3,553.0 1537.3,551.4 1542.3,546.4 1547.3,542.9 1552.4,501.0 1557.4,501.6 1562.4,456.0 1567.4,439.0 1572.6,432.0 1577.6,441.0 1582.6,433.0 1587.6,442.0 1592.6,447.0 1597.6,439.0 1602.6,438.6 1607.8,453.0 1612.8,445.0 1617.8,377.0 1622.8,384.0 1627.8,371.0 1632.8,342.0 1637.8,364.0 1643.0,360.0 1648.0,344.0 1653.0,328.0 1658.0,299.0 1663.0,328.0 1668.0,358.0 1673.0,344.0 1678.2,333.0 1683.2,337.6 1688.2,355.0 1693.2,344.4 1698.2,370.0 1703.2,361.0 1708.2,329.0 1713.4,319.0 1718.4,340.0 1723.4,364.0 1728.4,388.0 1733.4,398.0 1738.4,409.0 1743.4,409.6 1748.6,418.0 1753.6,391.0 1758.6,419.0 1763.6,421.0 1768.6,417.6 1773.6,438.4 1778.6,409.0 1783.8,405.0 1788.8,391.6 1793.8,386.0 1798.8,382.4 1803.8,396.4 1808.8,390.4 1813.8,329.0 1819.0,354.0 1824.0,379.0 1829.0,338.4 1834.0,341.6 1839.0,357.0 1844.0,434.0 1849.0,482.4 1854.2,470.0 1859.2,458.0 1864.2,480.0 1869.2,502.4 1874.2,499.6 1879.2,490.4 1884.2,498.4 1889.4,480.0 1894.4,466.0 1899.4,452.0 1904.4,438.6 1909.4,466.0 1914.4,471.0 1919.4,477.6 1924.4,460.0"/>
<text class="ax" x="157.70" y="289.8" textLength="40.22" lengthAdjust="spacingAndGlyphs">54%</text>
<text class="ax" x="157.70" y="364.1" textLength="40.22" lengthAdjust="spacingAndGlyphs">52%</text>
<text class="ax" x="157.70" y="438.3" textLength="40.22" lengthAdjust="spacingAndGlyphs">50%</text>
<text class="ax" x="158.04" y="512.6" textLength="39.87" lengthAdjust="spacingAndGlyphs">48%</text>
<text class="ax" x="158.04" y="586.9" textLength="39.87" lengthAdjust="spacingAndGlyphs">46%</text>
<text class="ax" x="158.04" y="661.1" textLength="39.87" lengthAdjust="spacingAndGlyphs">44%</text>
<text class="ax" x="158.04" y="735.4" textLength="39.87" lengthAdjust="spacingAndGlyphs">42%</text>
<text class="ax" x="158.04" y="809.7" textLength="39.87" lengthAdjust="spacingAndGlyphs">40%</text>
<text class="ax" x="157.74" y="884.0" textLength="40.18" lengthAdjust="spacingAndGlyphs">38%</text>
<text class="ax" x="157.74" y="958.2" textLength="40.18" lengthAdjust="spacingAndGlyphs">36%</text>
<line x1="230.5" x2="1929" y1="988.7" y2="988.7" stroke="#e7e7e7" stroke-width="1.6"/>
<line x1="300.3" x2="300.3" y1="988.7" y2="1005.5" stroke="#e7e7e7" stroke-width="1.6"/>
<text class="ax" x="268.90" y="1032.5" textLength="61.96" lengthAdjust="spacingAndGlyphs" style="font-size:21px">16 Oct</text>
<line x1="421.0" x2="421.0" y1="988.7" y2="1005.5" stroke="#e7e7e7" stroke-width="1.6"/>
<text class="ax" x="390.95" y="1032.5" textLength="59.90" lengthAdjust="spacingAndGlyphs" style="font-size:21px">17 Oct</text>
<line x1="541.7" x2="541.7" y1="988.7" y2="1005.5" stroke="#e7e7e7" stroke-width="1.6"/>
<text class="ax" x="511.33" y="1032.5" textLength="60.72" lengthAdjust="spacingAndGlyphs" style="font-size:21px">18 Oct</text>
<line x1="662.4" x2="662.4" y1="988.7" y2="1005.5" stroke="#e7e7e7" stroke-width="1.6"/>
<text class="ax" x="630.90" y="1032.5" textLength="61.96" lengthAdjust="spacingAndGlyphs" style="font-size:21px">19 Oct</text>
<line x1="783.0" x2="783.0" y1="988.7" y2="1005.5" stroke="#e7e7e7" stroke-width="1.6"/>
<text class="ax" x="750.70" y="1032.5" textLength="64.15" lengthAdjust="spacingAndGlyphs" style="font-size:21px">20 Oct</text>
<line x1="903.7" x2="903.7" y1="988.7" y2="1005.5" stroke="#e7e7e7" stroke-width="1.6"/>
<text class="ax" x="873.89" y="1032.5" textLength="59.05" lengthAdjust="spacingAndGlyphs" style="font-size:21px">21 Oct</text>
<line x1="1024.4" x2="1024.4" y1="988.7" y2="1005.5" stroke="#e7e7e7" stroke-width="1.6"/>
<text class="ax" x="992.72" y="1032.5" textLength="63.03" lengthAdjust="spacingAndGlyphs" style="font-size:21px">22 Oct</text>
<line x1="1145.1" x2="1145.1" y1="988.7" y2="1005.5" stroke="#e7e7e7" stroke-width="1.6"/>
<text class="ax" x="1113.33" y="1032.5" textLength="62.62" lengthAdjust="spacingAndGlyphs" style="font-size:21px">23 Oct</text>
<line x1="1265.8" x2="1265.8" y1="988.7" y2="1005.5" stroke="#e7e7e7" stroke-width="1.6"/>
<text class="ax" x="1233.72" y="1032.5" textLength="63.03" lengthAdjust="spacingAndGlyphs" style="font-size:21px">24 Oct</text>
<line x1="1386.5" x2="1386.5" y1="988.7" y2="1005.5" stroke="#e7e7e7" stroke-width="1.6"/>
<text class="ax" x="1354.52" y="1032.5" textLength="63.03" lengthAdjust="spacingAndGlyphs" style="font-size:21px">25 Oct</text>
<line x1="1507.1" x2="1507.1" y1="988.7" y2="1005.5" stroke="#e7e7e7" stroke-width="1.6"/>
<text class="ax" x="1474.60" y="1032.5" textLength="64.15" lengthAdjust="spacingAndGlyphs" style="font-size:21px">26 Oct</text>
<line x1="1627.8" x2="1627.8" y1="988.7" y2="1005.5" stroke="#e7e7e7" stroke-width="1.6"/>
<text class="ax" x="1596.64" y="1032.5" textLength="62.22" lengthAdjust="spacingAndGlyphs" style="font-size:21px">27 Oct</text>
<line x1="1748.5" x2="1748.5" y1="988.7" y2="1005.5" stroke="#e7e7e7" stroke-width="1.6"/>
<text class="ax" x="1716.62" y="1032.5" textLength="63.03" lengthAdjust="spacingAndGlyphs" style="font-size:21px">28 Oct</text>
<line x1="1869.2" x2="1869.2" y1="988.7" y2="1005.5" stroke="#e7e7e7" stroke-width="1.6"/>
<text class="ax" x="1836.60" y="1032.5" textLength="64.26" lengthAdjust="spacingAndGlyphs" style="font-size:21px">29 Oct</text>
<line x1="1937.8" x2="1937.8" y1="246" y2="987.8" stroke="#111" stroke-width="2"/>
<text class="ax" x="1962.60" y="252.9" textLength="49.87" lengthAdjust="spacingAndGlyphs">$117k</text>
<text class="ax" x="1962.59" y="310.0" textLength="50.88" lengthAdjust="spacingAndGlyphs">$116k</text>
<text class="ax" x="1962.59" y="367.1" textLength="50.88" lengthAdjust="spacingAndGlyphs">$115k</text>
<text class="ax" x="1962.59" y="424.1" textLength="50.88" lengthAdjust="spacingAndGlyphs">$114k</text>
<text class="ax" x="1962.59" y="481.2" textLength="50.88" lengthAdjust="spacingAndGlyphs">$113k</text>
<text class="ax" x="1962.59" y="538.3" textLength="50.88" lengthAdjust="spacingAndGlyphs">$112k</text>
<text class="ax" x="1962.60" y="595.4" textLength="47.37" lengthAdjust="spacingAndGlyphs">$111k</text>
<text class="ax" x="1962.59" y="652.5" textLength="50.88" lengthAdjust="spacingAndGlyphs">$110k</text>
<text class="ax" x="1962.59" y="709.5" textLength="53.18" lengthAdjust="spacingAndGlyphs">$109k</text>
<text class="ax" x="1962.59" y="766.6" textLength="53.18" lengthAdjust="spacingAndGlyphs">$108k</text>
<text class="ax" x="1962.59" y="823.7" textLength="53.18" lengthAdjust="spacingAndGlyphs">$107k</text>
<text class="ax" x="1962.59" y="880.8" textLength="53.18" lengthAdjust="spacingAndGlyphs">$106k</text>
<text class="ax" x="1962.59" y="937.9" textLength="53.18" lengthAdjust="spacingAndGlyphs">$105k</text>
<text class="ax" x="1962.59" y="994.9" textLength="53.18" lengthAdjust="spacingAndGlyphs">$104k</text>
<text  x="53.34" y="1160.5" textLength="485.14" lengthAdjust="spacingAndGlyphs" font-size="28" fill="#7d7d7d">© 2025 Glassnode. All Rights Reserved.</text>
<text id="logo" transform="scale(1.07,1)" x="1719.1 1750.3 1762.9 1794.7 1817.7 1841.8 1871.4 1904.5 1936.0" y="1168.6" font-size="53.5" fill="#1b1b1b" stroke="#1b1b1b" stroke-width="0.95" stroke-linejoin="round">glassnode</text>
</svg>
</body></html>
